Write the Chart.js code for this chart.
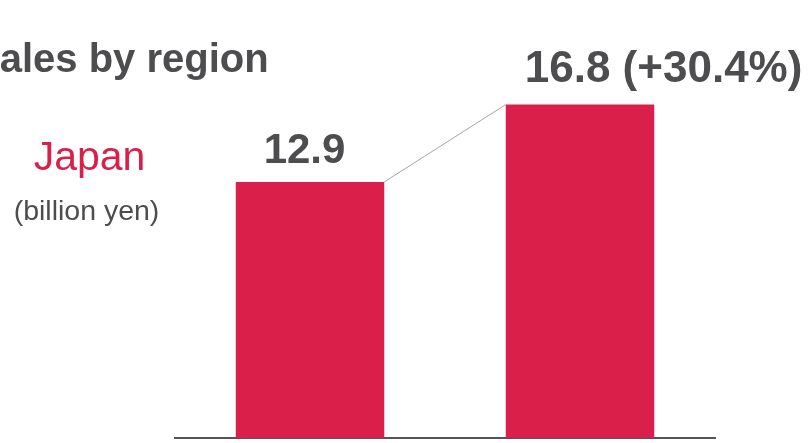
<!DOCTYPE html>
<html>
<head>
<meta charset="utf-8">
<script src="https://cdn.jsdelivr.net/npm/chart.js@4.4.0/dist/chart.umd.min.js"></script>
<style>
  html, body { margin: 0; padding: 0; background: #fff; }
  #wrap { width: 808px; height: 443px; position: relative; }
</style>
</head>
<body>
<div id="wrap"><canvas id="chart"></canvas></div>
<script>
// values
const categories = ['Previous', 'Current'];
const sales = [12.9, 16.8];
const valueLabels = ['12.9', '16.8 (+30.4%)'];

const RED = '#d91f4a';
const GREY = '#4d4d4f';
const FONT = 'Liberation Sans, Arial, Helvetica, sans-serif';

const annotations = {
    id: 'annotations',
    afterDatasetsDraw(chart) {
        const ctx = chart.ctx;
        const bars = chart.getDatasetMeta(0).data;
        const b1 = bars[0], b2 = bars[1];

        ctx.save();
        // connector between bar tops
        ctx.strokeStyle = '#a6a6a6';
        ctx.lineWidth = 1;
        ctx.beginPath();
        ctx.moveTo(b1.x + b1.width / 2, b1.y);
        ctx.lineTo(b2.x - b2.width / 2, b2.y);
        ctx.stroke();

        // value labels
        ctx.fillStyle = GREY;
        ctx.textBaseline = 'alphabetic';
        ctx.textAlign = 'center';
        ctx.font = 'bold 42px ' + FONT;
        ctx.fillText(valueLabels[0], b1.x - 5.5, b1.y - 19);
        ctx.textAlign = 'left';
        ctx.font = 'bold 44px ' + FONT;
        ctx.fillText(valueLabels[1], b2.x - b2.width / 2 + 19, b2.y - 23);

        // title, clipped at the left edge
        ctx.font = 'bold 40px ' + FONT;
        ctx.fillText('Sales by region', -27, 72);

        // region label
        ctx.textAlign = 'center';
        ctx.fillStyle = RED;
        ctx.font = '41px ' + FONT;
        ctx.fillText('Japan', 89.5, 170);
        ctx.fillStyle = GREY;
        ctx.font = '28.5px ' + FONT;
        ctx.fillText('(billion yen)', 86.5, 220);
        ctx.restore();
    }
};

new Chart(document.getElementById('chart'), {
    type: 'bar',
    data: {
        labels: categories,
        datasets: [{
            data: sales,
            backgroundColor: RED,
            borderWidth: 0,
            barPercentage: 0.55,
            categoryPercentage: 1
        }]
    },
    options: {
        responsive: true,
        maintainAspectRatio: false,
        animation: false,
        layout: { padding: { left: 175, right: 93, top: 43, bottom: -3 } },
        plugins: {
            legend: { display: false },
            tooltip: { enabled: false }
        },
        scales: {
            x: {
                grid: { display: false },
                border: { display: true, color: '#555555', width: 2 },
                ticks: { display: false, padding: 0 }
            },
            y: {
                display: false,
                min: 0,
                max: 19.9
            }
        }
    },
    plugins: [annotations]
});
</script>
</body>
</html>
